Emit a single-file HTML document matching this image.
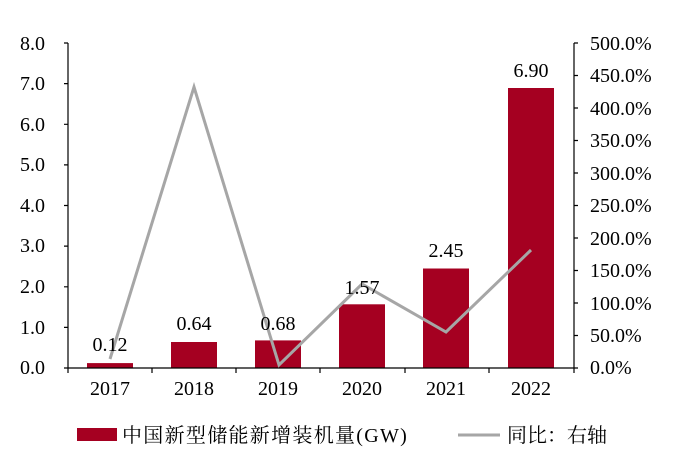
<!DOCTYPE html>
<html><head><meta charset="utf-8"><style>body{margin:0;background:#fff}</style></head><body>
<svg width="700" height="454" xmlns="http://www.w3.org/2000/svg" font-family="Liberation Serif, Noto Serif CJK SC, serif" font-size="20" fill="#000">
<g fill="#a50021">
<rect x="87" y="363.1" width="46" height="4.9"/>
<rect x="171" y="342" width="46" height="26"/>
<rect x="255" y="340.4" width="46" height="27.6"/>
<rect x="339" y="304.3" width="46" height="63.7"/>
<rect x="423" y="268.5" width="46" height="99.5"/>
<rect x="508" y="88" width="46" height="280"/>
</g>
<g stroke="#000" stroke-width="1.2" fill="none">
<line x1="68" y1="43" x2="68" y2="368"/>
<line x1="574" y1="43" x2="574" y2="368"/>
<line x1="68" y1="368" x2="574" y2="368"/>
<path d="M64 43H68M64 83.6H68M64 124.3H68M64 164.9H68M64 205.5H68M64 246.1H68M64 286.8H68M64 327.4H68M64 368H68"/>
<path d="M574 43H578M574 75.5H578M574 108H578M574 140.5H578M574 173H578M574 205.5H578M574 238H578M574 270.5H578M574 303H578M574 335.5H578M574 368H578"/>
<path d="M68 368V373M152 368V373M236 368V373M320 368V373M405 368V373M489 368V373M574 368V373"/>
</g>
<polyline points="110,359 194,87 279,365 362,284 446,332 531,250" fill="none" stroke="#a6a6a6" stroke-width="3"/>
<g text-anchor="end">
<text x="45" y="50">8.0</text><text x="45" y="90">7.0</text><text x="45" y="131">6.0</text><text x="45" y="171">5.0</text><text x="45" y="212">4.0</text><text x="45" y="252">3.0</text><text x="45" y="293">2.0</text><text x="45" y="334">1.0</text><text x="45" y="374">0.0</text>
</g>
<g>
<text x="590" y="50">500.0%</text><text x="590" y="82">450.0%</text><text x="590" y="115">400.0%</text><text x="590" y="147">350.0%</text><text x="590" y="180">300.0%</text><text x="590" y="212">250.0%</text><text x="590" y="245">200.0%</text><text x="590" y="277">150.0%</text><text x="590" y="310">100.0%</text><text x="590" y="342">50.0%</text><text x="590" y="374">0.0%</text>
</g>
<g text-anchor="middle">
<text x="110" y="395">2017</text><text x="194" y="395">2018</text><text x="278" y="395">2019</text><text x="362" y="395">2020</text><text x="446" y="395">2021</text><text x="531" y="395">2022</text>
<text x="110" y="351">0.12</text><text x="194" y="330">0.64</text><text x="278" y="330">0.68</text><text x="362" y="294">1.57</text><text x="446" y="257">2.45</text><text x="531" y="77">6.90</text>
</g>
<rect x="77" y="428" width="40" height="13" fill="#a50021"/>
<text x="122" y="442" font-size="20" letter-spacing="1.3">中国新型储能新增装机量(GW)</text>
<line x1="458" y1="435" x2="500" y2="435" stroke="#a6a6a6" stroke-width="3"/>
<text x="507" y="442" font-size="20">同比：右轴</text>
</svg>
</body></html>
